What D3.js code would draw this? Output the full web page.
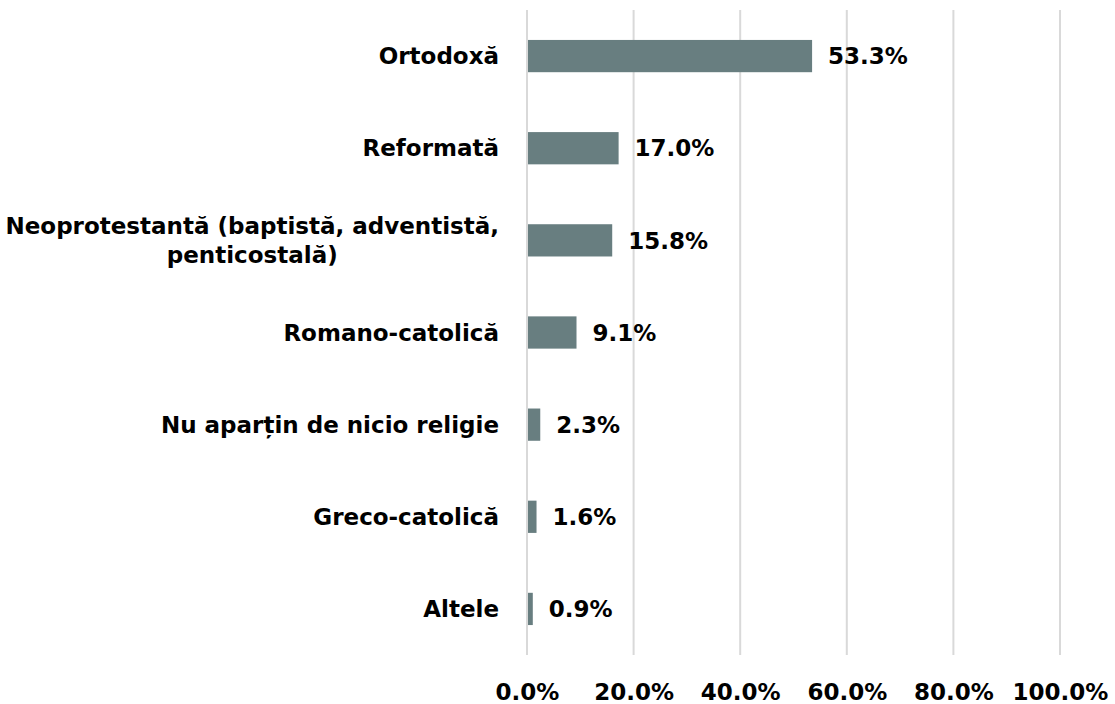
<!DOCTYPE html>
<html>
<head>
<meta charset="utf-8">
<script src="https://cdn.jsdelivr.net/npm/d3@7"></script>
<style>
  html, body { margin: 0; padding: 0; background: #fff; }
  svg text { font-family: "DejaVu Sans", sans-serif; font-weight: bold; fill: #000; }
</style>
</head>
<body>
<svg id="chart" width="1115" height="704"></svg>
<script>
// Religious affiliation shares (%)
const categories = [
  "Ortodoxă",
  "Reformată",
  "Neoprotestantă (baptistă, adventistă, penticostală)",
  "Romano-catolică",
  "Nu aparțin de nicio religie",
  "Greco-catolică",
  "Altele"
];
const values = [53.3, 17.0, 15.8, 9.1, 2.3, 1.6, 0.9];
const tickValues = [0, 20, 40, 60, 80, 100];

// Wrapped label lines for long category names
const labelLines = {
  "Neoprotestantă (baptistă, adventistă, penticostală)": ["Neoprotestantă (baptistă, adventistă,", "penticostală)"]
};

const svg = d3.select("#chart");
const margin = { left: 527, right: 55, top: 10, bottom: 49 };
const width = 1115, height = 704;
const fs = 23;
const labelRight = 499;

const x = d3.scaleLinear().domain([0, 100]).range([margin.left, width - margin.right]);
const y = d3.scaleBand().domain(categories).range([margin.top, height - margin.bottom]).paddingInner(0.65).paddingOuter(0.325);

// Vertical gridlines
svg.append("g")
  .selectAll("line")
  .data(tickValues)
  .join("line")
  .attr("x1", d => x(d)).attr("x2", d => x(d))
  .attr("y1", margin.top).attr("y2", height - margin.bottom)
  .attr("stroke", "#d9d9d9").attr("stroke-width", 2);

// Bars
svg.append("g")
  .selectAll("rect")
  .data(values)
  .join("rect")
  .attr("x", x(0) + 1)
  .attr("y", (d, i) => y(categories[i]))
  .attr("width", d => x(d) - x(0))
  .attr("height", y.bandwidth())
  .attr("fill", "#687e80");

// Value labels
svg.append("g")
  .selectAll("text")
  .data(values)
  .join("text")
  .attr("x", d => x(d) + 17)
  .attr("y", (d, i) => y(categories[i]) + y.bandwidth() / 2)
  .attr("dy", "0.36em")
  .attr("font-size", fs)
  .text(d => d.toFixed(1) + "%");

// Category labels; multi-line labels are centred on their widest line
const catG = svg.append("g");
categories.forEach(c => {
  const lines = labelLines[c] || [c];
  const cy = y(c) + y.bandwidth() / 2;
  const lh = 29;
  const t = catG.append("text")
    .attr("font-size", fs)
    .attr("y", cy - (lines.length - 1) * lh / 2);
  if (lines.length === 1) {
    t.attr("text-anchor", "end")
      .append("tspan").attr("x", labelRight).attr("dy", "0.36em").text(lines[0]);
  } else {
    t.attr("text-anchor", "middle");
    const spans = lines.map((l, k) =>
      t.append("tspan").attr("dy", k === 0 ? "0.36em" : lh).text(l));
    const maxW = d3.max(spans, s => s.node().getComputedTextLength());
    spans.forEach(s => s.attr("x", labelRight - maxW / 2));
  }
});

// Bottom axis tick labels
const axis = d3.axisBottom(x).tickValues(tickValues).tickFormat(d => d.toFixed(1) + "%").tickSize(0);
const ax = svg.append("g").attr("transform", `translate(0,700)`).call(axis);
ax.select(".domain").remove();
ax.selectAll("text").attr("font-size", fs).attr("dy", 0).attr("y", 0)
  .style("font-family", "'DejaVu Sans', sans-serif").style("font-weight", "bold").attr("fill", "#000");
</script>
</body>
</html>
